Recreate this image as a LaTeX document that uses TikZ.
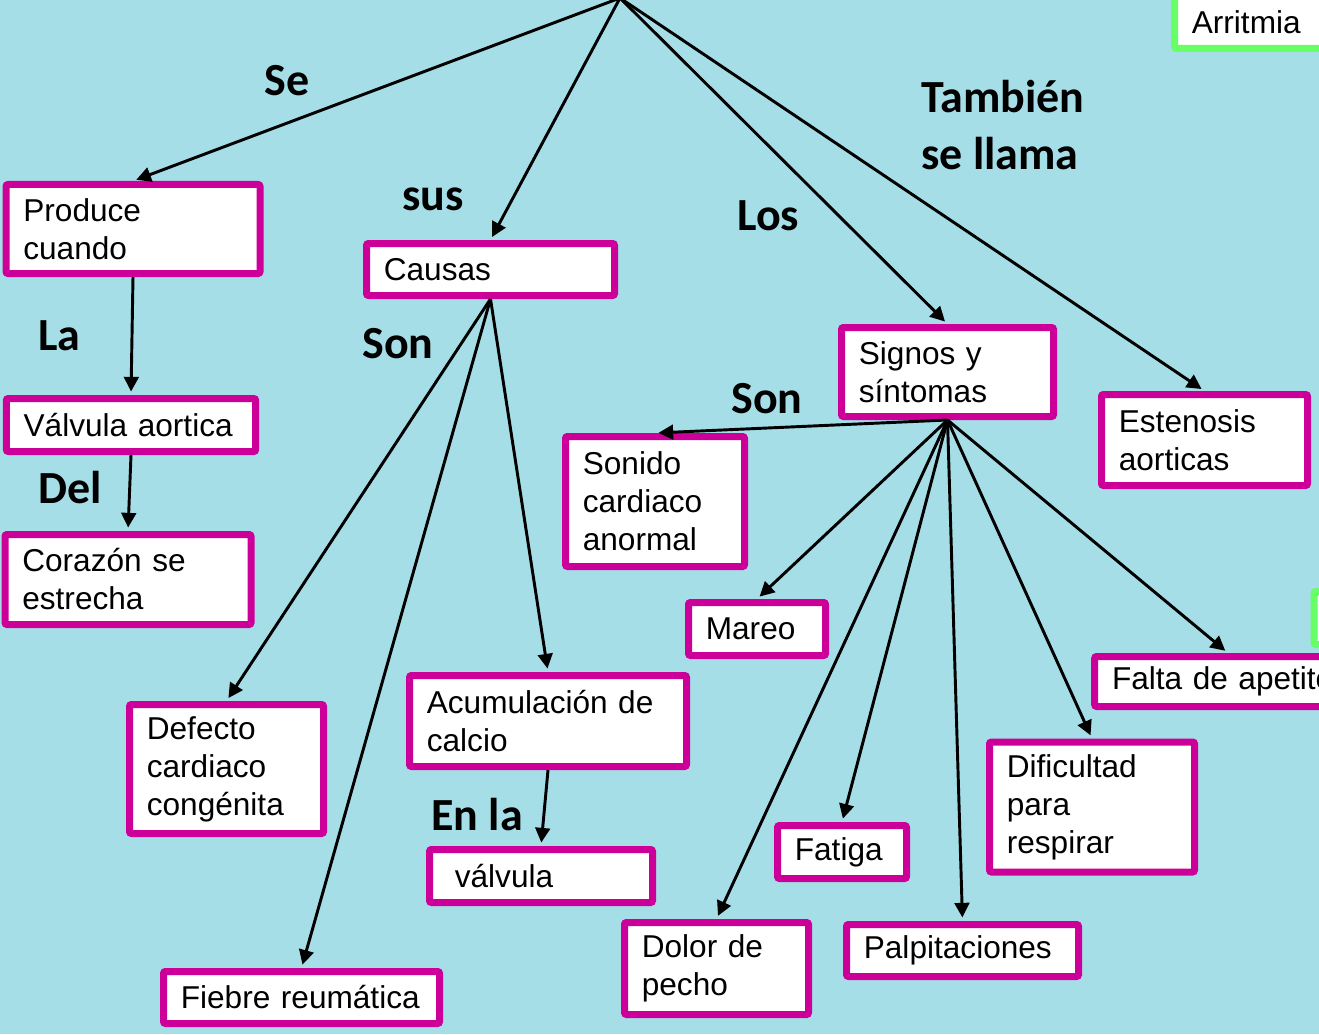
\documentclass[tikz,border=0pt]{standalone}
\usepackage{fontspec}
\setmainfont{Liberation Sans}
\newfontfamily\lblfont{Carlito}
\usetikzlibrary{arrows.meta}
\definecolor{bgcyan}{RGB}{166,222,232}
\definecolor{boxmag}{RGB}{204,0,153}
\definecolor{boxgreen}{RGB}{102,255,102}

\begin{document}
\begin{tikzpicture}
  [x=0.75pt,y=-0.75pt,
   box/.style={draw=boxmag, line width=5.25pt, fill=white, rounded corners=1.5pt,
     inner xsep=13pt, inner ysep=0pt, align=left,
     font=\fontsize{23.7}{28.5}\selectfont},
   gbox/.style={box, draw=boxgreen},
   lbl/.style={anchor=base west, inner sep=0pt, align=left,
     font=\lblfont\bfseries\fontsize{34.5}{43}\selectfont},
   arr/.style={-{Triangle[length=11pt,width=11pt]}, line width=2.2pt, shorten >=2.6pt}]
  \useasboundingbox (0,0) rectangle (1319,1034);
  \clip (0,0) rectangle (1319,1034);
  \fill[bgcyan] (0,0) rectangle (1319,1034);

  \coordinate (top) at (620,-2);
  \node[gbox, text width=88pt, minimum height=39.75pt] (arrit) at (1250.5,22) {Arritmia};
  \node[gbox, minimum width=150pt, minimum height=39.75pt] (extra) at (1414,618) {};

  \node[box, text width=164.5pt, minimum height=66.75pt] (prod) at (133,229) {Produce\\cuando};
  \node[box, text width=160pt, minimum height=39pt] (caus) at (490.5,269.5) {Causas};
  \node[box, text width=161pt, minimum height=39.75pt] (valv) at (131,425) {Válvula aortica};
  \node[box, text width=158.5pt, minimum height=67.5pt] (coraz) at (128,579.5) {Corazón se\\estrecha};
  \node[box, text width=133pt, minimum height=66.75pt] (sign) at (947.5,372) {Signos y\\síntomas};
  \node[box, text width=128.5pt, minimum height=68.25pt] (esten) at (1204.5,440) {Estenosis\\aorticas};
  \node[box, text width=108.25pt, minimum height=97.5pt] (sonid) at (655,501.5) {Sonido\\cardiaco\\anormal};
  \node[box, text width=76.75pt, minimum height=39.75pt] (mareo) at (757,629) {Mareo};
  \node[box, text width=174pt, minimum height=37.5pt] (falta) at (1228,681.5) {Falta de apetito};
  \node[box, text width=119.5pt, minimum height=96.75pt] (defec) at (226.5,769) {Defecto\\cardiaco\\congénita};
  \node[box, text width=181.75pt, minimum height=68.25pt] (acum) at (548,721) {Acumulación de\\calcio};
  \node[box, text width=141.25pt, minimum height=39.75pt] (valv2) at (541,876) {\hspace*{6pt}válvula};
  \node[box, text width=127.75pt, minimum height=97.5pt] (dific) at (1092,807) {Dificultad\\para\\respirar};
  \node[box, text width=70.75pt, minimum height=39.75pt] (fatig) at (842,852) {Fatiga};
  \node[box, text width=112pt, minimum height=69pt] (dolor) at (716.5,968.5) {Dolor de\\pecho};
  \node[box, text width=148pt, minimum height=39pt] (palpi) at (962.5,950.5) {Palpitaciones};
  \node[box, text width=181pt, minimum height=39pt] (fiebr) at (301.5,997.5) {Fiebre reumática};

  \node[lbl] (se) at (264,96) {Se};
  \node[lbl] (sus) at (402,211) {sus};
  \node[lbl] (los) at (737,230) {Los};
  \node[lbl] (tamb) at (921,170) {También\\se llama};
  \node[lbl] (la) at (38,350) {La};
  \node[lbl] (son) at (362,358) {Son};
  \node[lbl] (sonb) at (731,413) {Son};
  \node[lbl] (del) at (38,503) {Del};
  \node[lbl] (enla) at (431,830) {En la};

  \foreach \to in {prod,caus,sign,esten}
    \draw[arr] (top) -- (\to.north);
  \foreach \from/\to in {prod/valv,valv/coraz,caus/defec,caus/fiebr,caus/acum,acum/valv2,
      sign/sonid,sign/mareo,sign/dolor,sign/fatig,sign/palpi,sign/dific,sign/falta}
    \draw[arr] (\from.south) -- (\to.north);
\end{tikzpicture}
\end{document}
